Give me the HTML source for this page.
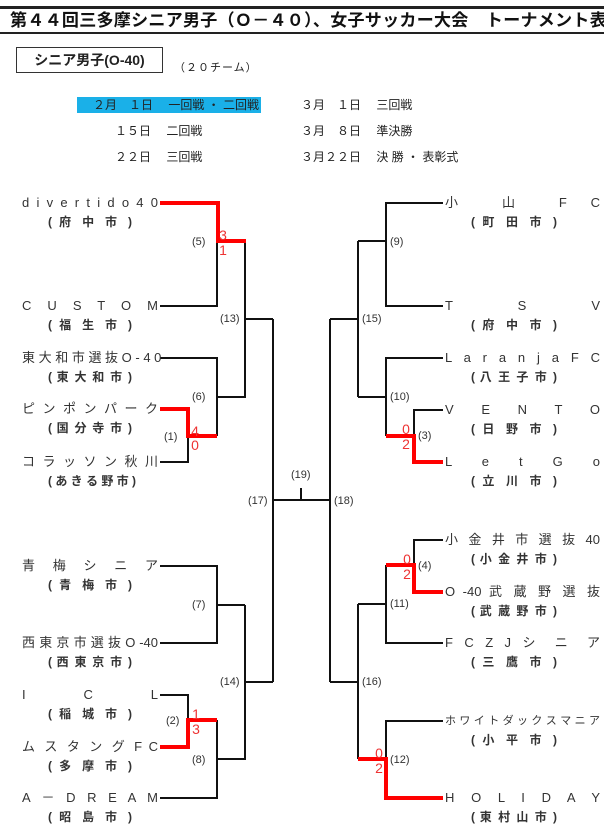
<!DOCTYPE html>
<html><head><meta charset="utf-8">
<style>
body{margin:0;background:#fff;width:604px;height:837px;overflow:hidden;position:relative;font-family:"Liberation Sans","Noto Sans CJK JP",sans-serif;color:#222;}
.a{position:absolute;white-space:nowrap;}
.nl{position:absolute;left:22px;width:136px;height:16px;line-height:16px;font-size:13px;text-align:justify;text-align-last:justify;white-space:nowrap;color:#333}
.nr{position:absolute;left:445px;width:155px;height:16px;line-height:16px;font-size:13px;text-align:justify;text-align-last:justify;white-space:nowrap;color:#333}
.cl{position:absolute;left:48px;width:84px;text-align:justify;text-align-last:justify;font-size:12px;font-weight:bold;line-height:14px;white-space:nowrap;color:#333}
.cr{position:absolute;left:471px;width:86px;text-align:justify;text-align-last:justify;font-size:12px;font-weight:bold;line-height:14px;white-space:nowrap;color:#333}
.m{position:absolute;font-size:11px;color:#333;line-height:12px;}
.s{position:absolute;font-size:14px;color:#e33;line-height:14px;width:12px;text-align:center;}
</style></head><body>
<div class="a" style="left:0;top:6px;width:604px;height:3px;background:#222"></div>
<div class="a" style="left:10px;top:11px;font-size:17px;font-weight:bold;line-height:20px;color:#111;letter-spacing:0.3px">第４４回三多摩シニア男子（Ｏ－４０）、女子サッカー大会　トーナメント表</div>
<div class="a" style="left:0;top:32px;width:604px;height:2px;background:#222"></div>
<div class="a" style="left:16px;top:47px;width:147px;height:26px;border:1px solid #333;box-sizing:border-box;text-align:center;line-height:24px;font-size:14px;font-weight:bold">シニア男子(O-40)</div>
<div class="a" style="left:174px;top:59px;font-size:11px;letter-spacing:1px">（２０チーム）</div>
<div class="a" style="left:77px;top:97px;width:184px;height:16px;background:#1ab0e8"></div>
<div class="a" style="left:93px;top:98px;font-size:12px;line-height:14px">２月　１日　 一回戦 ・ 二回戦</div>
<div class="a" style="left:301px;top:98px;font-size:12px;line-height:14px">３月　１日　 三回戦</div>
<div class="a" style="left:115px;top:124px;font-size:12px;line-height:14px">１５日　 二回戦</div>
<div class="a" style="left:301px;top:124px;font-size:12px;line-height:14px">３月　８日　 準決勝</div>
<div class="a" style="left:115px;top:150px;font-size:12px;line-height:14px">２２日　 三回戦</div>
<div class="a" style="left:301px;top:150px;font-size:12px;line-height:14px">３月２２日　 決 勝 ・ 表彰式</div>

<svg class="a" style="left:0;top:0" width="604" height="837">
<g stroke="#111" stroke-width="2" fill="none">
<polyline points="160,306 217,306 217,241"/>
<polyline points="245,241 245,397 217,397"/>
<line x1="245" y1="319" x2="273" y2="319"/>
<polyline points="160,358 217,358 217,436"/>
<polyline points="160,462 188,462 188,436"/>
<line x1="273" y1="319" x2="273" y2="682"/>
<line x1="273" y1="500" x2="330" y2="500"/>
<line x1="301" y1="488" x2="301" y2="500"/>
<line x1="330" y1="319" x2="330" y2="682"/>
<polyline points="160,566 217,566 217,643 160,643"/>
<line x1="217" y1="605" x2="245" y2="605"/>
<polyline points="245,605 245,759 217,759"/>
<line x1="245" y1="682" x2="273" y2="682"/>
<polyline points="160,695 188,695 188,720"/>
<polyline points="217,720 217,798 160,798"/>
<polyline points="443,203 386,203 386,306 443,306"/>
<line x1="386" y1="241" x2="358" y2="241"/>
<line x1="358" y1="241" x2="358" y2="397"/>
<line x1="358" y1="319" x2="330" y2="319"/>
<polyline points="443,358 386,358 386,436"/>
<line x1="386" y1="397" x2="358" y2="397"/>
<polyline points="443,410 414,410 414,436"/>
<polyline points="443,540 414,540 414,565"/>
<polyline points="386,565 386,643 443,643"/>
<line x1="386" y1="604" x2="358" y2="604"/>
<line x1="358" y1="604" x2="358" y2="759"/>
<line x1="358" y1="682" x2="330" y2="682"/>
<polyline points="443,721 386,721 386,759"/>
</g>
<g stroke="#f00" stroke-width="4" fill="none">
<polyline points="160,203 218,203 218,241 246,241"/>
<polyline points="160,409 188,409 188,436 217,436"/>
<polyline points="160,747 188,747 188,720 217,720"/>
<polyline points="443,462 414,462 414,436 386,436"/>
<polyline points="443,592 414,592 414,565 386,565"/>
<polyline points="443,798 386,798 386,759 358,759"/>
</g>
</svg>

<div class="nl" style="top:195px">d i v e r t i d o 4 0</div><div class="cl" style="top:215px">( 府 中 市 )</div>
<div class="nl" style="top:298px">C U S T O M</div><div class="cl" style="top:318px">( 福 生 市 )</div>
<div class="nl" style="top:350px">東 大 和 市 選 抜 O - 4 0</div><div class="cl" style="top:370px">( 東 大 和 市 )</div>
<div class="nl" style="top:401px">ピ ン ポ ン パ ー ク</div><div class="cl" style="top:421px">( 国 分 寺 市 )</div>
<div class="nl" style="top:454px">コ ラ ッ ソ ン 秋 川</div><div class="cl" style="top:474px">( あ き る 野 市 )</div>
<div class="nl" style="top:558px">青 梅 シ ニ ア</div><div class="cl" style="top:578px">( 青 梅 市 )</div>
<div class="nl" style="top:635px">西 東 京 市 選 抜 O -40</div><div class="cl" style="top:655px">( 西 東 京 市 )</div>
<div class="nl" style="top:687px">I C L</div><div class="cl" style="top:707px">( 稲 城 市 )</div>
<div class="nl" style="top:739px">ム ス タ ン グ F C</div><div class="cl" style="top:759px">( 多 摩 市 )</div>
<div class="nl" style="top:790px">A － D R E A M</div><div class="cl" style="top:810px">( 昭 島 市 )</div>

<div class="nr" style="top:195px">小 山 F C</div><div class="cr" style="top:215px">( 町 田 市 )</div>
<div class="nr" style="top:298px">T S V</div><div class="cr" style="top:318px">( 府 中 市 )</div>
<div class="nr" style="top:350px">L a r a n j a F C</div><div class="cr" style="top:370px">( 八 王 子 市 )</div>
<div class="nr" style="top:402px">V E N T O</div><div class="cr" style="top:422px">( 日 野 市 )</div>
<div class="nr" style="top:454px">L e t G o</div><div class="cr" style="top:474px">( 立 川 市 )</div>
<div class="nr" style="top:532px">小 金 井 市 選 抜 40</div><div class="cr" style="top:552px">( 小 金 井 市 )</div>
<div class="nr" style="top:584px">O -40 武 蔵 野 選 抜</div><div class="cr" style="top:604px">( 武 蔵 野 市 )</div>
<div class="nr" style="top:635px">F C Z J シ ニ ア</div><div class="cr" style="top:655px">( 三 鷹 市 )</div>
<div class="nr" style="top:713px;font-size:11px">ホ ワ イ ト ダ ッ ク ス マ ニ ア</div><div class="cr" style="top:733px">( 小 平 市 )</div>
<div class="nr" style="top:790px">H O L I D A Y</div><div class="cr" style="top:810px">( 東 村 山 市 )</div>

<div class="m" style="left:192px;top:236px">(5)</div>
<div class="m" style="left:220px;top:313px">(13)</div>
<div class="m" style="left:192px;top:391px">(6)</div>
<div class="m" style="left:164px;top:431px">(1)</div>
<div class="m" style="left:248px;top:495px">(17)</div>
<div class="m" style="left:291px;top:469px">(19)</div>
<div class="m" style="left:192px;top:599px">(7)</div>
<div class="m" style="left:220px;top:676px">(14)</div>
<div class="m" style="left:166px;top:715px">(2)</div>
<div class="m" style="left:192px;top:754px">(8)</div>
<div class="m" style="left:390px;top:236px">(9)</div>
<div class="m" style="left:362px;top:313px">(15)</div>
<div class="m" style="left:390px;top:391px">(10)</div>
<div class="m" style="left:418px;top:430px">(3)</div>
<div class="m" style="left:334px;top:495px">(18)</div>
<div class="m" style="left:418px;top:560px">(4)</div>
<div class="m" style="left:390px;top:598px">(11)</div>
<div class="m" style="left:362px;top:676px">(16)</div>
<div class="m" style="left:390px;top:754px">(12)</div>

<div class="s" style="left:217px;top:228px">3</div><div class="s" style="left:217px;top:243px">1</div>
<div class="s" style="left:189px;top:424px">4</div><div class="s" style="left:189px;top:438px">0</div>
<div class="s" style="left:190px;top:707px">1</div><div class="s" style="left:190px;top:722px">3</div>
<div class="s" style="left:400px;top:422px">0</div><div class="s" style="left:400px;top:437px">2</div>
<div class="s" style="left:401px;top:552px">0</div><div class="s" style="left:401px;top:567px">2</div>
<div class="s" style="left:373px;top:746px">0</div><div class="s" style="left:373px;top:761px">2</div>
</body></html>
